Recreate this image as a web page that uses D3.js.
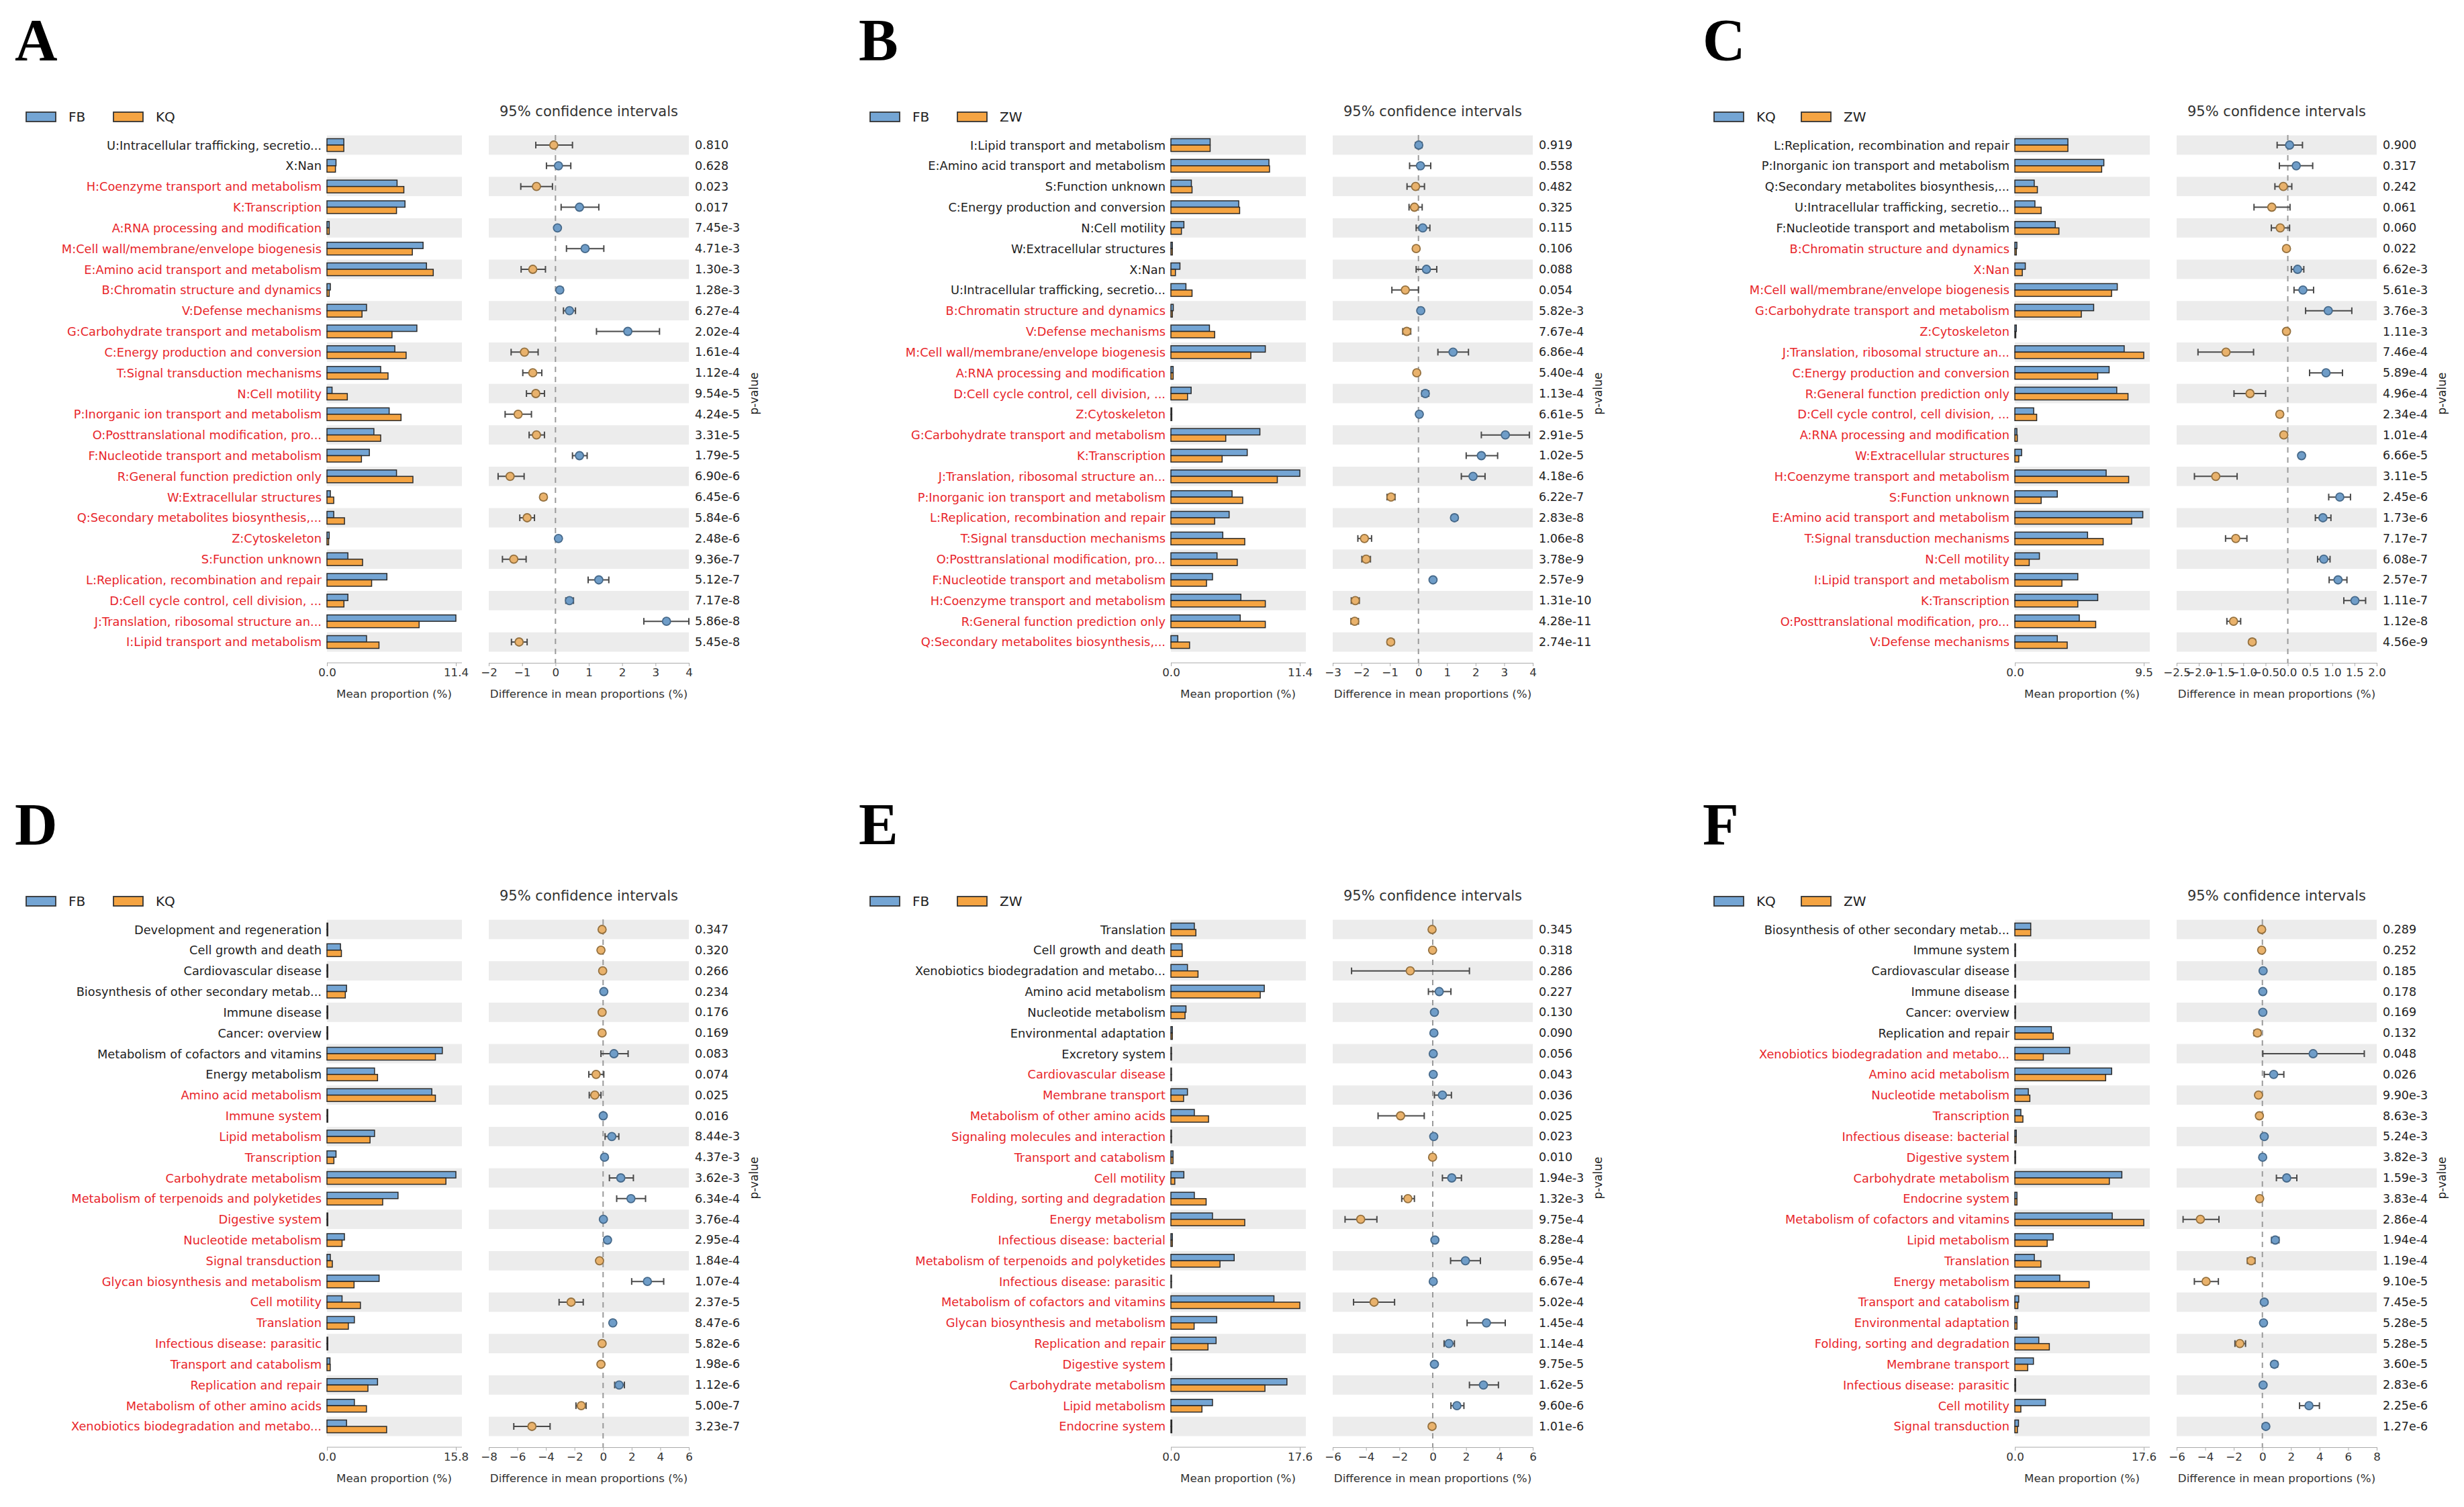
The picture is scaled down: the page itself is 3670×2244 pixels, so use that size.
<!DOCTYPE html>
<html>
<head>
<meta charset="utf-8">
<script src="https://cdn.jsdelivr.net/npm/d3@7"></script>
<style>
  body { margin: 0; background: #fff; }
  text { font-family: "DejaVu Sans", sans-serif; }
</style>
</head>
<body>
<div id="plot"></div>
<script>
// ---- Panel A: FB vs KQ (COG) ----
const aLabels = ["U:Intracellular trafficking, secretio...", "X:Nan", "H:Coenzyme transport and metabolism", "K:Transcription", "A:RNA processing and modification", "M:Cell wall/membrane/envelope biogenesis", "E:Amino acid transport and metabolism", "B:Chromatin structure and dynamics", "V:Defense mechanisms", "G:Carbohydrate transport and metabolism", "C:Energy production and conversion", "T:Signal transduction mechanisms", "N:Cell motility", "P:Inorganic ion transport and metabolism", "O:Posttranslational modification, pro...", "F:Nucleotide transport and metabolism", "R:General function prediction only", "W:Extracellular structures", "Q:Secondary metabolites biosynthesis,...", "Z:Cytoskeleton", "S:Function unknown", "L:Replication, recombination and repair", "D:Cell cycle control, cell division, ...", "J:Translation, ribosomal structure an...", "I:Lipid transport and metabolism"];
const aG1 = [1.49, 0.8, 6.2, 6.9, 0.2, 8.5, 8.8, 0.3, 3.5, 7.95, 6.0, 4.75, 0.45, 5.5, 4.15, 3.75, 6.15, 0.3, 0.6, 0.2, 1.85, 5.3, 1.85, 11.4, 3.5];
const aG2 = [1.49, 0.75, 6.8, 6.15, 0.2, 7.55, 9.4, 0.2, 3.1, 5.75, 7.0, 5.4, 1.8, 6.55, 4.75, 3.05, 7.6, 0.6, 1.55, 0.15, 3.15, 3.95, 1.5, 8.15, 4.6];
const aDiff = [-0.05, 0.09, -0.57, 0.72, 0.06, 0.89, -0.68, 0.13, 0.42, 2.17, -0.93, -0.68, -0.59, -1.12, -0.57, 0.72, -1.36, -0.36, -0.85, 0.09, -1.25, 1.30, 0.42, 3.33, -1.09];
const aLow = [-0.59, -0.27, -1.04, 0.17, 0.01, 0.33, -1.03, 0.05, 0.24, 1.23, -1.33, -0.98, -0.87, -1.51, -0.79, 0.51, -1.72, -0.45, -1.07, 0.03, -1.59, 0.98, 0.31, 2.65, -1.32];
const aHigh = [0.51, 0.46, -0.09, 1.30, 0.11, 1.45, -0.30, 0.22, 0.60, 3.12, -0.52, -0.41, -0.33, -0.72, -0.33, 0.95, -0.94, -0.27, -0.63, 0.16, -0.88, 1.60, 0.54, 4.0, -0.85];
const aP = ["0.810", "0.628", "0.023", "0.017", "7.45e-3", "4.71e-3", "1.30e-3", "1.28e-3", "6.27e-4", "2.02e-4", "1.61e-4", "1.12e-4", "9.54e-5", "4.24e-5", "3.31e-5", "1.79e-5", "6.90e-6", "6.45e-6", "5.84e-6", "2.48e-6", "9.36e-7", "5.12e-7", "7.17e-8", "5.86e-8", "5.45e-8"];

// ---- Panel B: FB vs ZW (COG) ----
const bLabels = ["I:Lipid transport and metabolism", "E:Amino acid transport and metabolism", "S:Function unknown", "C:Energy production and conversion", "N:Cell motility", "W:Extracellular structures", "X:Nan", "U:Intracellular trafficking, secretio...", "B:Chromatin structure and dynamics", "V:Defense mechanisms", "M:Cell wall/membrane/envelope biogenesis", "A:RNA processing and modification", "D:Cell cycle control, cell division, ...", "Z:Cytoskeleton", "G:Carbohydrate transport and metabolism", "K:Transcription", "J:Translation, ribosomal structure an...", "P:Inorganic ion transport and metabolism", "L:Replication, recombination and repair", "T:Signal transduction mechanisms", "O:Posttranslational modification, pro...", "F:Nucleotide transport and metabolism", "H:Coenzyme transport and metabolism", "R:General function prediction only", "Q:Secondary metabolites biosynthesis,..."];
const bG1 = [3.47, 8.67, 1.81, 6.0, 1.15, 0.13, 0.8, 1.33, 0.21, 3.41, 8.35, 0.2, 1.79, 0.08, 7.87, 6.75, 11.4, 5.41, 5.15, 4.59, 4.08, 3.68, 6.19, 6.13, 0.61];
const bG2 = [3.47, 8.72, 1.87, 6.08, 0.93, 0.13, 0.4, 1.87, 0.13, 3.87, 7.07, 0.2, 1.47, 0.08, 4.85, 4.53, 9.41, 6.35, 3.87, 6.53, 5.87, 3.15, 8.35, 8.35, 1.65];
const bDiff = [0.01, 0.07, -0.10, -0.14, 0.15, -0.08, 0.28, -0.46, 0.08, -0.41, 1.21, -0.06, 0.24, 0.03, 3.04, 2.20, 1.91, -0.96, 1.26, -1.89, -1.83, 0.51, -2.21, -2.23, -0.97];
const bLow = [-0.10, -0.31, -0.40, -0.33, -0.08, -0.15, -0.08, -0.93, 0.0, -0.55, 0.68, -0.13, 0.12, -0.03, 2.20, 1.67, 1.50, -1.10, 1.16, -2.12, -1.98, 0.43, -2.35, -2.36, -1.08];
const bHigh = [0.12, 0.43, 0.21, 0.13, 0.40, -0.01, 0.64, 0.0, 0.16, -0.27, 1.75, 0.01, 0.36, 0.09, 3.88, 2.77, 2.33, -0.82, 1.36, -1.64, -1.68, 0.59, -2.07, -2.10, -0.86];
const bP = ["0.919", "0.558", "0.482", "0.325", "0.115", "0.106", "0.088", "0.054", "5.82e-3", "7.67e-4", "6.86e-4", "5.40e-4", "1.13e-4", "6.61e-5", "2.91e-5", "1.02e-5", "4.18e-6", "6.22e-7", "2.83e-8", "1.06e-8", "3.78e-9", "2.57e-9", "1.31e-10", "4.28e-11", "2.74e-11"];

// ---- Panel C: KQ vs ZW (COG) ----
const cLabels = ["L:Replication, recombination and repair", "P:Inorganic ion transport and metabolism", "Q:Secondary metabolites biosynthesis,...", "U:Intracellular trafficking, secretio...", "F:Nucleotide transport and metabolism", "B:Chromatin structure and dynamics", "X:Nan", "M:Cell wall/membrane/envelope biogenesis", "G:Carbohydrate transport and metabolism", "Z:Cytoskeleton", "J:Translation, ribosomal structure an...", "C:Energy production and conversion", "R:General function prediction only", "D:Cell cycle control, cell division, ...", "A:RNA processing and modification", "W:Extracellular structures", "H:Coenzyme transport and metabolism", "S:Function unknown", "E:Amino acid transport and metabolism", "T:Signal transduction mechanisms", "N:Cell motility", "I:Lipid transport and metabolism", "K:Transcription", "O:Posttranslational modification, pro...", "V:Defense mechanisms"];
const cG1 = [3.91, 6.56, 1.43, 1.48, 2.98, 0.15, 0.77, 7.55, 5.81, 0.11, 8.06, 6.95, 7.51, 1.39, 0.15, 0.5, 6.73, 3.13, 9.43, 5.36, 1.81, 4.64, 6.11, 4.75, 3.13];
const cG2 = [3.91, 6.40, 1.66, 1.94, 3.25, 0.11, 0.55, 7.13, 4.90, 0.07, 9.5, 6.11, 8.34, 1.61, 0.18, 0.29, 8.39, 1.94, 8.61, 6.51, 1.06, 3.47, 4.64, 5.96, 3.86];
const cDiff = [0.04, 0.19, -0.10, -0.36, -0.17, -0.03, 0.22, 0.34, 0.91, -0.03, -1.39, 0.86, -0.85, -0.18, -0.09, 0.31, -1.62, 1.17, 0.79, -1.17, 0.81, 1.13, 1.51, -1.22, -0.80];
const cLow = [-0.24, -0.19, -0.29, -0.76, -0.37, -0.06, 0.08, 0.14, 0.40, -0.07, -2.02, 0.49, -1.21, -0.24, -0.14, 0.26, -2.10, 0.92, 0.62, -1.40, 0.67, 0.93, 1.26, -1.37, -0.86];
const cHigh = [0.33, 0.56, 0.09, 0.05, 0.04, 0.0, 0.36, 0.58, 1.44, 0.01, -0.77, 1.23, -0.50, -0.12, -0.04, 0.37, -1.14, 1.41, 0.97, -0.92, 0.95, 1.33, 1.75, -1.06, -0.73];
const cP = ["0.900", "0.317", "0.242", "0.061", "0.060", "0.022", "6.62e-3", "5.61e-3", "3.76e-3", "1.11e-3", "7.46e-4", "5.89e-4", "4.96e-4", "2.34e-4", "1.01e-4", "6.66e-5", "3.11e-5", "2.45e-6", "1.73e-6", "7.17e-7", "6.08e-7", "2.57e-7", "1.11e-7", "1.12e-8", "4.56e-9"];

// ---- Panel D: FB vs KQ (KEGG) ----
const dLabels = ["Development and regeneration", "Cell growth and death", "Cardiovascular disease", "Biosynthesis of other secondary metab...", "Immune disease", "Cancer: overview", "Metabolism of cofactors and vitamins", "Energy metabolism", "Amino acid metabolism", "Immune system", "Lipid metabolism", "Transcription", "Carbohydrate metabolism", "Metabolism of terpenoids and polyketides", "Digestive system", "Nucleotide metabolism", "Signal transduction", "Glycan biosynthesis and metabolism", "Cell motility", "Translation", "Infectious disease: parasitic", "Transport and catabolism", "Replication and repair", "Metabolism of other amino acids", "Xenobiotics biodegradation and metabo..."];
const dG1 = [0.1, 1.66, 0.1, 2.4, 0.1, 0.1, 14.14, 5.83, 12.85, 0.1, 5.83, 1.11, 15.8, 8.71, 0.1, 2.14, 0.41, 6.39, 1.85, 3.36, 0.1, 0.37, 6.2, 3.36, 2.4];
const dG2 = [0.1, 1.77, 0.1, 2.25, 0.1, 0.1, 13.29, 6.2, 13.29, 0.1, 5.28, 0.85, 14.58, 6.83, 0.1, 1.85, 0.66, 3.32, 4.1, 2.62, 0.1, 0.4, 5.02, 4.84, 7.31];
const dDiff = [-0.07, -0.15, -0.03, 0.05, -0.07, -0.07, 0.76, -0.49, -0.58, 0.01, 0.61, 0.10, 1.24, 1.95, 0.02, 0.31, -0.25, 3.10, -2.24, 0.68, -0.07, -0.15, 1.12, -1.53, -4.98];
const dLow = [-0.1, -0.25, -0.06, 0.0, -0.1, -0.1, -0.15, -1.0, -0.97, -0.02, 0.14, 0.03, 0.44, 0.95, -0.02, 0.15, -0.40, 2.0, -3.08, 0.50, -0.1, -0.25, 0.81, -1.90, -6.25];
const dHigh = [-0.04, -0.05, 0.0, 0.1, -0.04, -0.04, 1.75, 0.05, -0.15, 0.04, 1.10, 0.17, 2.12, 2.97, 0.06, 0.47, -0.10, 4.24, -1.39, 0.86, -0.04, -0.05, 1.49, -1.19, -3.71];
const dP = ["0.347", "0.320", "0.266", "0.234", "0.176", "0.169", "0.083", "0.074", "0.025", "0.016", "8.44e-3", "4.37e-3", "3.62e-3", "6.34e-4", "3.76e-4", "2.95e-4", "1.84e-4", "1.07e-4", "2.37e-5", "8.47e-6", "5.82e-6", "1.98e-6", "1.12e-6", "5.00e-7", "3.23e-7"];

// ---- Panel E: FB vs ZW (KEGG) ----
const eLabels = ["Translation", "Cell growth and death", "Xenobiotics biodegradation and metabo...", "Amino acid metabolism", "Nucleotide metabolism", "Environmental adaptation", "Excretory system", "Cardiovascular disease", "Membrane transport", "Metabolism of other amino acids", "Signaling molecules and interaction", "Transport and catabolism", "Cell motility", "Folding, sorting and degradation", "Energy metabolism", "Infectious disease: bacterial", "Metabolism of terpenoids and polyketides", "Infectious disease: parasitic", "Metabolism of cofactors and vitamins", "Glycan biosynthesis and metabolism", "Replication and repair", "Digestive system", "Carbohydrate metabolism", "Lipid metabolism", "Endocrine system"];
const eG1 = [3.2, 1.52, 2.26, 12.75, 2.06, 0.2, 0.08, 0.08, 2.26, 3.2, 0.08, 0.29, 1.77, 3.2, 5.68, 0.2, 8.64, 0.08, 14.07, 6.25, 6.17, 0.08, 15.84, 5.68, 0.12];
const eG2 = [3.41, 1.56, 3.7, 12.2, 1.93, 0.2, 0.08, 0.08, 1.73, 5.14, 0.08, 0.29, 0.53, 4.81, 10.08, 0.2, 6.7, 0.08, 17.6, 3.17, 5.06, 0.08, 12.84, 4.24, 0.12];
const eDiff = [-0.04, -0.01, -1.35, 0.39, 0.10, 0.07, 0.03, 0.03, 0.58, -1.93, 0.06, -0.01, 1.14, -1.49, -4.32, 0.13, 1.96, 0.03, -3.52, 3.22, 0.97, 0.10, 3.04, 1.45, -0.04];
const eLow = [-0.10, -0.05, -4.87, -0.26, 0.02, 0.03, 0.01, 0.01, 0.10, -3.28, 0.02, -0.04, 0.58, -1.86, -5.26, 0.06, 1.07, 0.01, -4.75, 2.06, 0.68, 0.04, 2.20, 1.09, -0.08];
const eHigh = [0.02, 0.03, 2.20, 1.09, 0.18, 0.11, 0.05, 0.05, 1.12, -0.51, 0.10, 0.02, 1.72, -1.10, -3.35, 0.20, 2.86, 0.05, -2.29, 4.35, 1.30, 0.16, 3.94, 1.87, 0.0];
const eP = ["0.345", "0.318", "0.286", "0.227", "0.130", "0.090", "0.056", "0.043", "0.036", "0.025", "0.023", "0.010", "1.94e-3", "1.32e-3", "9.75e-4", "8.28e-4", "6.95e-4", "6.67e-4", "5.02e-4", "1.45e-4", "1.14e-4", "9.75e-5", "1.62e-5", "9.60e-6", "1.01e-6"];

// ---- Panel F: KQ vs ZW (KEGG) ----
const fLabels = ["Biosynthesis of other secondary metab...", "Immune system", "Cardiovascular disease", "Immune disease", "Cancer: overview", "Replication and repair", "Xenobiotics biodegradation and metabo...", "Amino acid metabolism", "Nucleotide metabolism", "Transcription", "Infectious disease: bacterial", "Digestive system", "Carbohydrate metabolism", "Endocrine system", "Metabolism of cofactors and vitamins", "Lipid metabolism", "Translation", "Energy metabolism", "Transport and catabolism", "Environmental adaptation", "Folding, sorting and degradation", "Membrane transport", "Infectious disease: parasitic", "Cell motility", "Signal transduction"];
const fG1 = [2.17, 0.1, 0.1, 0.1, 0.1, 4.99, 7.49, 13.22, 1.84, 0.82, 0.2, 0.1, 14.61, 0.29, 13.3, 5.24, 2.66, 6.14, 0.53, 0.29, 3.27, 2.54, 0.1, 4.18, 0.5];
const fG2 = [2.17, 0.1, 0.1, 0.1, 0.1, 5.24, 3.89, 12.4, 2.05, 1.1, 0.2, 0.1, 12.9, 0.29, 17.6, 4.42, 3.56, 10.15, 0.41, 0.29, 4.71, 1.76, 0.1, 0.82, 0.35];
const fDiff = [-0.05, -0.05, 0.05, 0.03, 0.03, -0.35, 3.55, 0.79, -0.27, -0.21, 0.13, 0.02, 1.70, -0.19, -4.34, 0.90, -0.79, -3.94, 0.13, 0.08, -1.58, 0.84, 0.05, 3.26, 0.24];
const fLow = [-0.10, -0.10, 0.01, 0.0, 0.0, -0.58, 0.03, 0.13, -0.40, -0.32, 0.05, -0.02, 0.98, -0.30, -5.55, 0.64, -1.05, -4.76, 0.05, 0.02, -1.92, 0.64, 0.01, 2.60, 0.12];
const fHigh = [0.0, 0.0, 0.09, 0.06, 0.06, -0.12, 7.13, 1.50, -0.14, -0.10, 0.21, 0.06, 2.41, -0.08, -3.04, 1.16, -0.52, -3.08, 0.21, 0.14, -1.18, 1.06, 0.09, 3.99, 0.36];
const fP = ["0.289", "0.252", "0.185", "0.178", "0.169", "0.132", "0.048", "0.026", "9.90e-3", "8.63e-3", "5.24e-3", "3.82e-3", "1.59e-3", "3.83e-4", "2.86e-4", "1.94e-4", "1.19e-4", "9.10e-5", "7.45e-5", "5.28e-5", "5.28e-5", "3.60e-5", "2.83e-6", "2.25e-6", "1.27e-6"];

// panel settings: group names, bar axis max, CI axis range and ticks
const panels = [
  {letter: "A", groups: ["FB", "KQ"], labels: aLabels, g1: aG1, g2: aG2, diff: aDiff, lo: aLow, hi: aHigh, p: aP, barMax: 11.4, ci: [-2, 4], ciTicks: [-2, -1, 0, 1, 2, 3, 4], fmt: "d"},
  {letter: "B", groups: ["FB", "ZW"], labels: bLabels, g1: bG1, g2: bG2, diff: bDiff, lo: bLow, hi: bHigh, p: bP, barMax: 11.4, ci: [-3, 4], ciTicks: [-3, -2, -1, 0, 1, 2, 3, 4], fmt: "d"},
  {letter: "C", groups: ["KQ", "ZW"], labels: cLabels, g1: cG1, g2: cG2, diff: cDiff, lo: cLow, hi: cHigh, p: cP, barMax: 9.5, ci: [-2.5, 2.0], ciTicks: [-2.5, -2.0, -1.5, -1.0, -0.5, 0.0, 0.5, 1.0, 1.5, 2.0], fmt: ".1f"},
  {letter: "D", groups: ["FB", "KQ"], labels: dLabels, g1: dG1, g2: dG2, diff: dDiff, lo: dLow, hi: dHigh, p: dP, barMax: 15.8, ci: [-8, 6], ciTicks: [-8, -6, -4, -2, 0, 2, 4, 6], fmt: "d"},
  {letter: "E", groups: ["FB", "ZW"], labels: eLabels, g1: eG1, g2: eG2, diff: eDiff, lo: eLow, hi: eHigh, p: eP, barMax: 17.6, ci: [-6, 6], ciTicks: [-6, -4, -2, 0, 2, 4, 6], fmt: "d"},
  {letter: "F", groups: ["KQ", "ZW"], labels: fLabels, g1: fG1, g2: fG2, diff: fDiff, lo: fLow, hi: fHigh, p: fP, barMax: 17.6, ci: [-6, 8], ciTicks: [-6, -4, -2, 0, 2, 4, 6, 8], fmt: "d"}
];

const W = 3670, H = 2244;
const colStep = 1257, rowStep = 1168;
const blue = "#74a5d4", orange = "#f5a442";
const ptBlue = "#6f9dc8", ptOrange = "#e9b26c";
const red = "#e8262b";

const svg = d3.select("#plot").append("svg")
    .attr("width", W).attr("height", H);
svg.append("rect").attr("width", W).attr("height", H).attr("fill", "#fff");

function drawPanel(pn, idx) {
    const col = idx % 3, row = Math.floor(idx / 3);
    const g = svg.append("g").attr("transform", `translate(${col * colStep},${row * rowStep})`);
    const n = pn.labels.length;

    const y = d3.scaleBand().domain(d3.range(n)).range([200.6, 971.4]);
    const bw = y.bandwidth();
    const xBar = d3.scaleLinear().domain([0, pn.barMax]).range([487, 679]);
    const xCI = d3.scaleLinear().domain(pn.ci).range([728, 1026]);

    // panel letter
    g.append("text").attr("x", 22).attr("y", 89)
        .style("font-family", "'Liberation Serif', 'Times New Roman', serif")
        .style("font-weight", "bold").style("font-size", "88px")
        .text(pn.letter);

    // legend
    const leg = [[39, 102, blue], [169, 232, orange]];
    leg.forEach((l, i) => {
        g.append("rect").attr("x", l[0]).attr("y", 167).attr("width", 44).attr("height", 14)
            .attr("fill", l[2]).attr("stroke", "#333").attr("stroke-width", 1.8);
        g.append("text").attr("x", l[1]).attr("y", 174).attr("dominant-baseline", "central")
            .style("font-size", "20px").attr("fill", "#222").text(pn.groups[i]);
    });

    // CI title
    g.append("text").attr("x", 877).attr("y", 166).attr("text-anchor", "middle")
        .attr("dominant-baseline", "central").style("font-size", "21px").attr("fill", "#333")
        .text("95% confidence intervals");

    // alternating background bands
    const bands = d3.range(n).filter(i => i % 2 === 0);
    g.selectAll(".bandL").data(bands).enter().append("rect")
        .attr("x", 487).attr("width", 201)
        .attr("y", i => y(i) + 1).attr("height", bw - 2).attr("fill", "#ececec");
    g.selectAll(".bandR").data(bands).enter().append("rect")
        .attr("x", 728).attr("width", 298)
        .attr("y", i => y(i) + 1).attr("height", bw - 2).attr("fill", "#ececec");

    // category labels
    g.selectAll(".lab").data(pn.labels).enter().append("text")
        .attr("x", 479).attr("y", (d, i) => y(i) + bw / 2)
        .attr("text-anchor", "end").attr("dominant-baseline", "central")
        .style("font-size", "17.8px")
        .attr("fill", (d, i) => (+pn.p[i] < 0.05 ? red : "#222"))
        .text(d => d);

    // bars
    g.selectAll(".b1").data(pn.g1).enter().append("rect")
        .attr("x", xBar(0)).attr("y", (d, i) => y(i) + bw / 2 - 9.5)
        .attr("width", d => xBar(d) - xBar(0)).attr("height", 9.5)
        .attr("fill", blue).attr("stroke", "#2a2a2a").attr("stroke-width", 1.5);
    g.selectAll(".b2").data(pn.g2).enter().append("rect")
        .attr("x", xBar(0)).attr("y", (d, i) => y(i) + bw / 2)
        .attr("width", d => xBar(d) - xBar(0)).attr("height", 9.5)
        .attr("fill", orange).attr("stroke", "#2a2a2a").attr("stroke-width", 1.5);

    // bar axis
    const axB = g.append("g").attr("transform", "translate(0,987)")
        .call(d3.axisBottom(xBar).tickValues([0, pn.barMax]).tickFormat(d3.format(".1f")).tickSize(5).tickSizeOuter(0));
    axB.select(".domain").attr("stroke", "#aaa").attr("d", "M487,0H688");
    axB.selectAll(".tick line").attr("stroke", "#aaa");
    axB.selectAll(".tick text").style("font-size", "16.7px").attr("fill", "#333").style("font-family", "DejaVu Sans");
    g.append("text").attr("x", 587).attr("y", 1033).attr("text-anchor", "middle")
        .attr("dominant-baseline", "central").style("font-size", "16.7px").attr("fill", "#333")
        .text("Mean proportion (%)");

    // zero line
    g.append("line").attr("x1", xCI(0)).attr("x2", xCI(0)).attr("y1", 201).attr("y2", 987)
        .attr("stroke", "#9a9a9a").attr("stroke-width", 2).attr("stroke-dasharray", "8,7");

    // CI axis
    const axC = g.append("g").attr("transform", "translate(0,987)")
        .call(d3.axisBottom(xCI).tickValues(pn.ciTicks).tickFormat(d3.format(pn.fmt)).tickSize(5).tickSizeOuter(0));
    axC.select(".domain").attr("stroke", "#aaa");
    axC.selectAll(".tick line").attr("stroke", "#aaa");
    axC.selectAll(".tick text").style("font-size", "16.7px").attr("fill", "#333").style("font-family", "DejaVu Sans");
    g.append("text").attr("x", 877).attr("y", 1033).attr("text-anchor", "middle")
        .attr("dominant-baseline", "central").style("font-size", "16.7px").attr("fill", "#333")
        .text("Difference in mean proportions (%)");

    // error bars and points
    const idxs = d3.range(n);
    const eb = g.selectAll(".eb").data(idxs).enter().append("g")
        .attr("transform", i => `translate(0,${y(i) + bw / 2})`);
    eb.append("line").attr("x1", i => xCI(pn.lo[i])).attr("x2", i => xCI(pn.hi[i]))
        .attr("stroke", "#4a4a4a").attr("stroke-width", 2);
    eb.append("line").attr("x1", i => xCI(pn.lo[i])).attr("x2", i => xCI(pn.lo[i]))
        .attr("y1", -5).attr("y2", 5).attr("stroke", "#4a4a4a").attr("stroke-width", 2);
    eb.append("line").attr("x1", i => xCI(pn.hi[i])).attr("x2", i => xCI(pn.hi[i]))
        .attr("y1", -5).attr("y2", 5).attr("stroke", "#4a4a4a").attr("stroke-width", 2);
    eb.append("circle").attr("cx", i => xCI(pn.diff[i])).attr("r", 6)
        .attr("fill", i => (pn.diff[i] >= 0 ? ptBlue : ptOrange))
        .attr("stroke", i => (pn.diff[i] >= 0 ? "#46698a" : "#94703e"))
        .attr("stroke-width", 1.8);

    // p-values
    g.selectAll(".pv").data(pn.p).enter().append("text")
        .attr("x", 1035).attr("y", (d, i) => y(i) + bw / 2)
        .attr("dominant-baseline", "central").style("font-size", "17.5px").attr("fill", "#222")
        .text(d => d);
    g.append("text").attr("transform", `translate(1123,${(y(0) + y(n - 1) + bw) / 2}) rotate(-90)`)
        .attr("text-anchor", "middle").attr("dominant-baseline", "central")
        .style("font-size", "17px").attr("fill", "#222").text("p-value");
}

panels.forEach(drawPanel);
</script>
</body>
</html>
